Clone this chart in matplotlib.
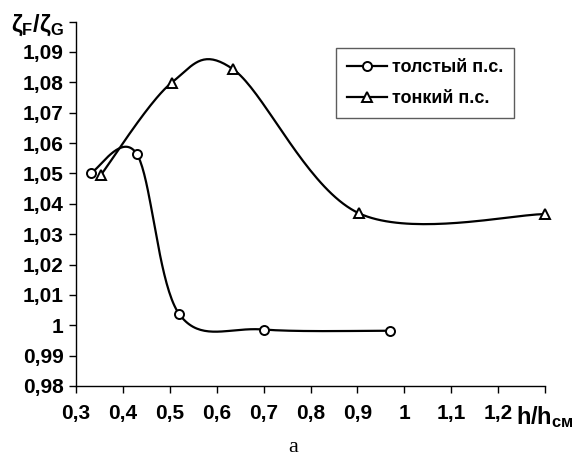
import numpy as np
import matplotlib
matplotlib.use("Agg")
import matplotlib.pyplot as plt
from matplotlib.lines import Line2D

plt.rcParams['font.family'] = ['Liberation Sans', 'DejaVu Sans']
plt.rcParams['font.weight'] = 'bold'
plt.rcParams['mathtext.fontset'] = 'custom'
plt.rcParams['mathtext.rm'] = 'Liberation Sans:bold'
plt.rcParams['mathtext.it'] = 'Liberation Sans:bold'
plt.rcParams['mathtext.bf'] = 'Liberation Sans:bold'

# data
thick_x = [0.333, 0.43, 0.52, 0.70, 0.97]
thick_y = [1.0503, 1.0563, 1.0037, 0.9986, 0.9982]
thin_x = [0.353, 0.504, 0.635, 0.903, 1.30]
thin_y = [1.0495, 1.0799, 1.0843, 1.0369, 1.0366]
label_thick = "толстый п.с."
label_thin = "тонкий п.с."
xticks = [0.3, 0.4, 0.5, 0.6, 0.7, 0.8, 0.9, 1.0, 1.1, 1.2, 1.3]
xticklabels = ["0,3", "0,4", "0,5", "0,6", "0,7", "0,8", "0,9", "1", "1,1", "1,2", r"$\mathrm{h/h}_{\mathrm{см}}$"]
yticks = [0.98, 0.99, 1.00, 1.01, 1.02, 1.03, 1.04, 1.05, 1.06, 1.07, 1.08, 1.09, 1.10]
yticklabels = ["0,98", "0,99", "1", "1,01", "1,02", "1,03", "1,04", "1,05", "1,06", "1,07", "1,08", "1,09",
               r"$\zeta_{\mathrm{F}}/\zeta_{\mathrm{G}}$"]
caption = "a"

XMIN, XMAX, YMIN, YMAX = 0.3, 1.3, 0.98, 1.10

fig = plt.figure(figsize=(5.82, 4.66), dpi=100)
ax = fig.add_axes([76/582, 1-386/466, 469/582, 364.4/466])
ax.set_xlim(XMIN, XMAX)
ax.set_ylim(YMIN, YMAX)

W, H = 469.0, 364.4

def smooth(xs, ys, n=40):
    # Excel-like smoothed line (Catmull-Rom Bezier) computed in screen space
    px = (np.asarray(xs) - XMIN) / (XMAX - XMIN) * W
    py = (np.asarray(ys) - YMIN) / (YMAX - YMIN) * H
    P = np.column_stack([px, py])
    out = []
    m = len(P)
    for i in range(m - 1):
        p0 = P[i - 1] if i > 0 else P[i]
        p1 = P[i]
        p2 = P[i + 1]
        p3 = P[i + 2] if i + 2 < m else P[i + 1]
        c1 = p1 + (p2 - p0) / 6.0
        c2 = p2 - (p3 - p1) / 6.0
        t = np.linspace(0, 1, n)[:, None]
        seg = (1-t)**3*p1 + 3*(1-t)**2*t*c1 + 3*(1-t)*t**2*c2 + t**3*p2
        out.append(seg if i == 0 else seg[1:])
    S = np.vstack(out)
    return S[:, 0] / W * (XMAX - XMIN) + XMIN, S[:, 1] / H * (YMAX - YMIN) + YMIN

for xs, ys, mk, ms in [(thick_x, thick_y, 'o', 6.5), (thin_x, thin_y, '^', 7.5)]:
    sx, sy = smooth(xs, ys)
    ax.plot(sx, sy, color='black', lw=1.6, clip_on=False, zorder=3)
    ax.plot(xs, ys, linestyle='none', marker=mk, ms=ms, mfc='white', mec='black', mew=1.4,
            clip_on=False, zorder=4)

ax.spines['top'].set_visible(False)
ax.spines['right'].set_visible(False)
ax.spines['left'].set_linewidth(1.0)
ax.spines['bottom'].set_linewidth(1.0)
ax.set_xticks(xticks)
ax.set_xticklabels(xticklabels, fontsize=15, fontweight='bold')
ax.set_yticks(yticks)
ax.set_yticklabels(yticklabels, fontsize=15, fontweight='bold')
ax.get_xticklabels()[-1].set_fontsize(17)
ax.get_yticklabels()[-1].set_fontsize(17)
ax.tick_params(axis='both', direction='out', length=5, width=1.0, colors='black')
ax.tick_params(axis='x', pad=8)
ax.tick_params(axis='y', pad=4)

handles = [Line2D([], [], color='black', lw=1.6, marker='o', ms=6.5, mfc='white', mec='black', mew=1.4),
           Line2D([], [], color='black', lw=1.6, marker='^', ms=7.5, mfc='white', mec='black', mew=1.4)]
leg = ax.legend(handles, [label_thick, label_thin], loc='upper left',
                bbox_to_anchor=((336-76)/469, (386-48)/364.4), borderaxespad=0,
                fancybox=False, frameon=True, edgecolor='#333333', handlelength=2.2,
                handletextpad=0.3, labelspacing=0.8, borderpad=0.6,
                prop={'family': 'Liberation Sans', 'weight': 'bold', 'size': 13})
leg.get_frame().set_linewidth(1.0)

fig.text(293/582, 1-447/466, caption, ha='center', va='center', fontsize=16,
         family='Liberation Serif', fontweight='normal')

fig.savefig('out.png', dpi=100, facecolor='white')
